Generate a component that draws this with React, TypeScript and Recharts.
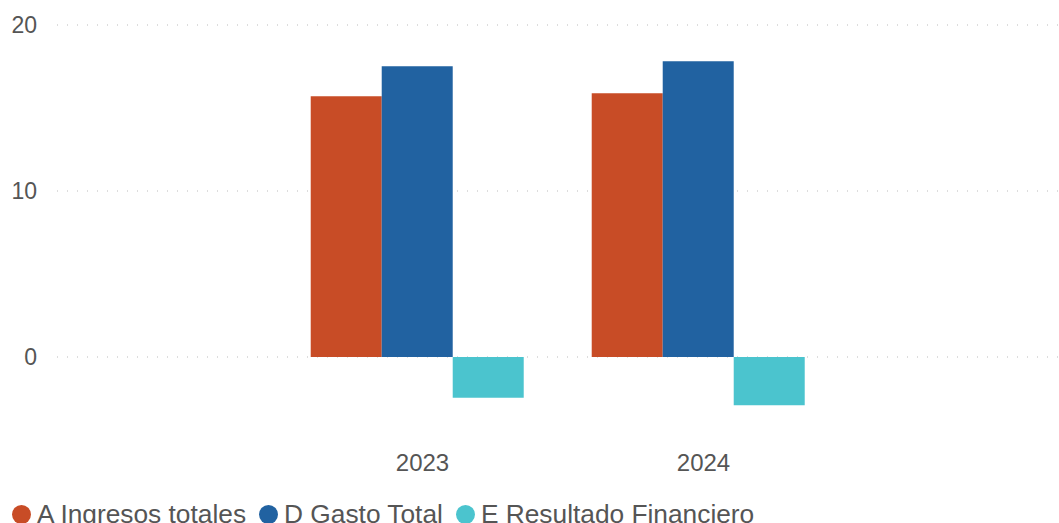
import React from "react";
import { BarChart, Bar, XAxis, YAxis, CartesianGrid, Legend } from "recharts";

const categories = ["2023", "2024"];
const ingresosTotales = [15.71, 15.89];
const gastoTotal = [17.52, 17.82];
const resultadoFinanciero = [-2.46, -2.9];
const yTicks = [0, 10, 20];

const seriesNames = ["A Ingresos totales", "D Gasto Total", "E Resultado Financiero"];
const seriesColors = ["#C84C26", "#2162A1", "#4BC4CE"];

const data = categories.map((c, i) => ({
  year: c,
  a: ingresosTotales[i],
  d: gastoTotal[i],
  e: resultadoFinanciero[i],
}));

const FONT = "Arial, 'Liberation Sans', sans-serif";

const renderLegend = () => (
  <div style={{ display: "flex", alignItems: "center", fontFamily: FONT, fontSize: 26.3, lineHeight: "30px", color: "#555", whiteSpace: "nowrap" }}>
    {seriesNames.map((n, i) => (
      <span key={n} style={{ display: "inline-flex", alignItems: "center", marginRight: 13 }}>
        <span style={{ width: 19, height: 19, borderRadius: "50%", background: seriesColors[i], display: "inline-block", marginRight: 6 }} />
        {n}
      </span>
    ))}
  </div>
);

export default function App() {
  return (
    <div style={{ position: "absolute", left: 0, top: 0, width: 1059, height: 523, overflow: "hidden", background: "#fff" }}>
      <BarChart
        width={1059}
        height={523}
        data={data}
        margin={{ top: 25, right: 0, left: 0, bottom: 0 }}
        barCategoryGap="12%"
        barGap={0}
      >
        <CartesianGrid vertical={false} stroke="#bbb" strokeDasharray="1 9" horizontalValues={yTicks} />
        <YAxis
          width={57}
          domain={[-5, 20]}
          ticks={yTicks}
          axisLine={false}
          tickLine={false}
          tickSize={0}
          tickMargin={20}
          tick={{ fill: "#555", fontSize: 23, fontFamily: FONT }}
        />
        <XAxis
          dataKey="year"
          axisLine={false}
          tickLine={false}
          tickSize={0}
          tickMargin={14}
          height={54}
          padding={{ left: 220, right: 220 }}
          tick={{ fill: "#555", fontSize: 24, fontFamily: FONT, dx: 5 }}
        />
        <Legend verticalAlign="bottom" align="left" content={renderLegend} wrapperStyle={{ left: 12, top: 499, height: 29 }} />
        <Bar dataKey="a" name={seriesNames[0]} fill={seriesColors[0]} isAnimationActive={false} />
        <Bar dataKey="d" name={seriesNames[1]} fill={seriesColors[1]} isAnimationActive={false} />
        <Bar dataKey="e" name={seriesNames[2]} fill={seriesColors[2]} isAnimationActive={false} />
      </BarChart>
    </div>
  );
}
